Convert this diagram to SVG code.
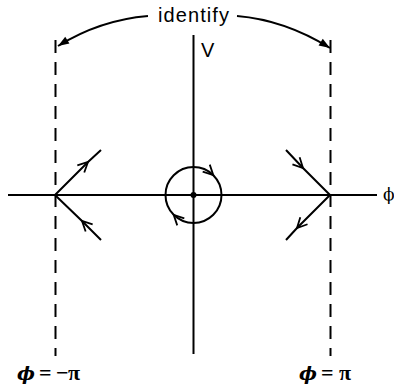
<svg xmlns="http://www.w3.org/2000/svg" width="394" height="387" viewBox="0 0 394 387">
<style>
  .ln{stroke:#000;stroke-width:2;fill:none}
  .dash{stroke:#000;stroke-width:2;fill:none;stroke-dasharray:13 9}
  .sans{font-family:"Liberation Sans","Arial",sans-serif;fill:#000}
  .serif{font-family:"Liberation Serif","DejaVu Serif",serif;fill:#000}
  .phi{font-family:"DejaVu Serif",serif;fill:#000}
  .open{stroke:#000;stroke-width:1.8;fill:none;stroke-linejoin:miter}
</style>
<defs>
  <marker id="openMid" markerUnits="userSpaceOnUse" markerWidth="14" markerHeight="14" viewBox="-12 -7 14 14" refX="0" refY="0" orient="auto">
    <path d="M-10,-5 L0,0 L-10,5" class="open"/>
  </marker>
  <marker id="solid" markerUnits="userSpaceOnUse" markerWidth="14" markerHeight="14" viewBox="-12 -7 14 14" refX="0" refY="0" orient="auto">
    <path d="M-11,-4 L0,0 L-11,4 Z" fill="#000"/>
  </marker>
  <path id="ah" d="M-10,-5 L0,0 L-10,5" class="open"/>
</defs>

<g id="connectors">
  <path class="ln" d="M148,16 Q100,20 58,46" stroke-width="1.5" marker-end="url(#solid)"/>
  <path class="ln" d="M237,16 Q285,20 330,48" stroke-width="1.5" marker-end="url(#solid)"/>
</g>

<g id="axes">
  <line class="ln" x1="8" y1="195" x2="377" y2="195"/>
  <line class="ln" x1="193.5" y1="35" x2="193.5" y2="354"/>
  <line class="dash" x1="55.5" y1="40" x2="55.5" y2="356"/>
  <line class="dash" x1="330.5" y1="40" x2="330.5" y2="356"/>
</g>

<g id="left-saddle">
  <path class="ln" d="M55,195 L88,162 L101,150" marker-mid="url(#openMid)"/>
  <path class="ln" d="M101,240 L82,221 L55,195" marker-mid="url(#openMid)"/>
</g>

<g id="right-saddle">
  <path class="ln" d="M286,150 L303,168 L330,195" marker-mid="url(#openMid)"/>
  <path class="ln" d="M330,195 L297,228 L286,240" marker-mid="url(#openMid)"/>
</g>

<g id="center">
  <circle class="ln" cx="193.5" cy="195" r="28"/>
  <circle cx="193.5" cy="195" r="3" fill="#000"/>
  <use href="#ah" transform="translate(213.3,175.2) rotate(45)"/>
  <use href="#ah" transform="translate(173.7,214.8) rotate(-135)"/>
</g>

<g id="labels">
  <text class="sans" x="193.5" y="22" font-size="20" text-anchor="middle" textLength="71" lengthAdjust="spacing">identify</text>
  <text class="sans" x="201" y="57" font-size="20">V</text>
  <text class="phi" x="383" y="200" font-size="17">ϕ</text>
  <text class="serif" x="17" y="380" font-size="22" font-weight="bold"><tspan class="phi" font-style="italic" font-size="19">ϕ</tspan><tspan x="39">=</tspan><tspan x="56">−</tspan><tspan x="68">π</tspan></text>
  <text class="serif" x="299" y="380" font-size="22" font-weight="bold"><tspan class="phi" font-style="italic" font-size="19">ϕ</tspan><tspan x="321">=</tspan><tspan x="339">π</tspan></text>
</g>
</svg>
